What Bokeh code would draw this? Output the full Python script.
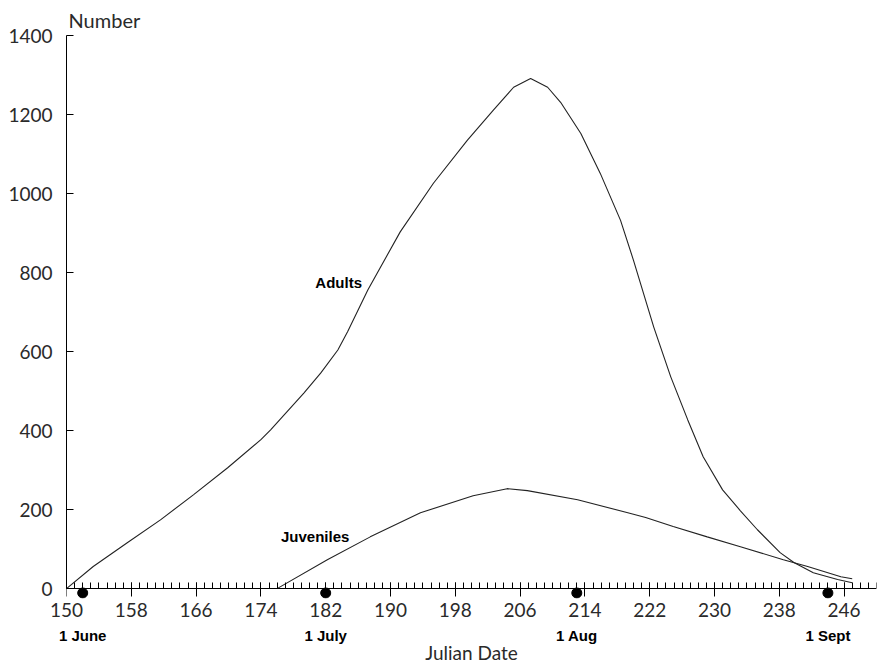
from bokeh.plotting import figure
from bokeh.models import FixedTicker, LinearAxis, Range1d, Title, Label
from bokeh.embed import file_html
from bokeh.resources import INLINE

# ---- data ----
adult_day = [150, 153.3, 157.5, 161.6, 165.7, 169.9, 174.0, 175.2, 179.3, 181.4,
             183.5, 184.7, 187.2, 191.2, 195.3, 199.5, 202.7, 205.2, 207.3, 209.4,
             211.0, 213.5, 215.9, 218.4, 220.0, 222.5, 224.6, 226.7, 228.6, 231.0,
             233.2, 235.3, 238.1, 239.8, 242.2, 245.2, 247.0]
adult_num = [0, 56, 116, 174, 238, 306, 377, 402, 495, 546,
             604, 650, 756, 903, 1026, 1135, 1211, 1269, 1291, 1269,
             1231, 1152, 1051, 932, 831, 662, 536, 427, 334, 250,
             197, 149, 91, 66, 40, 23, 15]

juv_day = [176.0, 182.2, 187.5, 193.7, 200.2, 204.4, 206.9, 213.1, 219.3, 221.5,
           224.9, 229.1, 233.2, 238.5, 241.5, 245.6, 247.0]
juv_num = [0, 73, 131, 192, 235, 253, 248, 225, 192, 180,
           157, 131, 106, 73, 56, 30, 25]

x_ticks = list(range(150, 247, 8))
x_minor = list(range(150, 251))
y_ticks = list(range(0, 1401, 200))

month_days = [152, 182, 213, 244]
month_labels = ["1 June", "1 July", "1 Aug", "1 Sept"]
month_marker_y = [-11, -11, -11, -11]

THIN = "Lato"
BOLD = "Liberation Sans"
TXT = "#2a2a2a"

p = figure(width=886, height=666,
           x_range=Range1d(150, 250), y_range=Range1d(-25, 1400),
           output_backend="svg", toolbar_location=None,
           x_axis_location=None, y_axis_location=None,
           min_border_left=66, min_border_right=10,
           min_border_top=35, min_border_bottom=67)
p.outline_line_color = None
p.grid.visible = False
p.background_fill_color = "white"
p.border_fill_color = "white"

# y axis
yax = LinearAxis(ticker=FixedTicker(ticks=y_ticks), bounds=(0, 1400),
                 major_tick_in=7, major_tick_out=0,
                 minor_tick_in=0, minor_tick_out=0,
                 major_label_standoff=14,
                 major_label_text_font=THIN, major_label_text_font_size="19px",
                 major_label_text_color=TXT,
                 axis_line_color="black", major_tick_line_color="black")
p.add_layout(yax, "left")

# x axis line and ticks, placed at y = 0
xline = LinearAxis(ticker=FixedTicker(ticks=x_ticks, minor_ticks=x_minor),
                   bounds=(150, 250), fixed_location=0,
                   major_tick_in=6, major_tick_out=8,
                   minor_tick_in=6, minor_tick_out=0,
                   major_label_text_color=None,
                   axis_line_color="black", major_tick_line_color="black",
                   minor_tick_line_color="black")
p.add_layout(xline, "below")

# Julian date numbers
xnum = LinearAxis(ticker=FixedTicker(ticks=x_ticks, minor_ticks=[]),
                  axis_line_color=None, major_tick_line_color=None,
                  minor_tick_line_color=None,
                  major_tick_in=0, major_tick_out=0,
                  minor_tick_in=0, minor_tick_out=0,
                  major_label_standoff=4,
                  major_label_text_font=THIN, major_label_text_font_size="19px",
                  major_label_text_color=TXT)
p.add_layout(xnum, "below")

# month labels + axis title
xmon = LinearAxis(ticker=FixedTicker(ticks=month_days, minor_ticks=[]),
                  major_label_overrides={d: s for d, s in zip(month_days, month_labels)},
                  axis_line_color=None, major_tick_line_color=None,
                  minor_tick_line_color=None,
                  major_tick_in=0, major_tick_out=0,
                  minor_tick_in=0, minor_tick_out=0,
                  major_label_standoff=7,
                  major_label_text_font=BOLD, major_label_text_font_style="bold",
                  major_label_text_font_size="15px", major_label_text_color="black",
                  axis_label="Julian Date", axis_label_standoff=-6,
                  axis_label_text_font=THIN, axis_label_text_font_style="normal",
                  axis_label_text_font_size="19px", axis_label_text_color=TXT)
p.add_layout(xmon, "below")

t = Title(text="Number", align="left", text_font=THIN, text_font_size="20px",
          text_font_style="normal", text_color=TXT, offset=2, standoff=8)
p.add_layout(t, "above")

p.line(adult_day, adult_num, line_color="#222222", line_width=1.1)
p.line(juv_day, juv_num, line_color="#222222", line_width=1.1)
p.scatter(month_days, month_marker_y, size=10, marker="circle",
          fill_color="black", line_color="black")

p.add_layout(Label(x=183.6, y=775, text="Adults", text_align="center",
                   text_baseline="middle", text_font=BOLD, text_font_style="bold",
                   text_font_size="15px", text_color="black"))
p.add_layout(Label(x=180.7, y=131, text="Juveniles", text_align="center",
                   text_baseline="middle", text_font=BOLD, text_font_style="bold",
                   text_font_size="15px", text_color="black"))

open("out.html", "w").write(file_html(p, INLINE))
